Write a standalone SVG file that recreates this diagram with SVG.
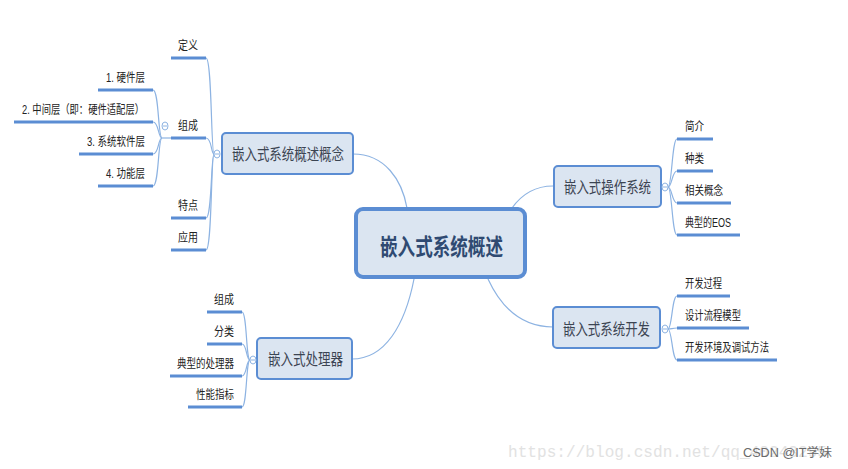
<svg xmlns="http://www.w3.org/2000/svg" width="848" height="469" viewBox="0 0 848 469">
<style>
  .bg{fill:#ffffff}
  .node{fill:#dbe5f1;stroke:#5b8dd3;stroke-width:2}
  .root{fill:#dbe5f1;stroke:#5b8dd3;stroke-width:4}
  .ntext{font-family:"Noto Sans CJK SC","Liberation Sans",sans-serif;font-size:16px;fill:#3b4452}
  .rtext{font-family:"Noto Sans CJK SC","Liberation Sans",sans-serif;font-size:23px;font-weight:bold;fill:#2f4a72}
  .stext{font-family:"Liberation Sans","Noto Sans CJK SC",sans-serif;font-size:12px;fill:#222222}
  .under{stroke:#5b8dd3;stroke-width:3;fill:none}
  .curve{stroke:#8db3e2;stroke-width:1.2;fill:none}
  .fold{fill:#ffffff;stroke:#8db3e2;stroke-width:1}
  .wm{font-family:"Liberation Mono",monospace;font-size:16px;fill:#e2e2e2}
  .wm2{font-family:"Liberation Sans","Noto Sans CJK SC",sans-serif;font-size:12px;fill:#6a6a6a}
</style>
<rect class="bg" x="0" y="0" width="848" height="469"/>

<g id="connectors">
  <!-- root to main topics -->
  <path class="curve" d="M353,154 C385,154 402,180 407,208"/>
  <path class="curve" d="M512,208 C522,194 535,186 553,186"/>
  <path class="curve" d="M488,279 C500,305 520,327 553,327"/>
  <path class="curve" d="M414,279 C405,325 385,359 352,359"/>
  <!-- 概念 children -->
  <path class="curve" d="M214,154 C211,154 212,58 206,58"/>
  <path class="curve" d="M214,154 C211,154 212,138 206,138"/>
  <path class="curve" d="M214,154 C211,154 212,218 206,218"/>
  <path class="curve" d="M214,154 C211,154 212,250 206,250"/>
  <!-- 组成 children -->
  <path class="curve" d="M171,138 L162,138"/>
  <path class="curve" d="M162,138 C158,138 159,90 153,90"/>
  <path class="curve" d="M162,138 C158,138 159,122 153,122"/>
  <path class="curve" d="M162,138 C158,138 159,154 153,154"/>
  <path class="curve" d="M162,138 C158,138 159,186 153,186"/>
  <!-- 操作系统 children -->
  <path class="curve" d="M668,187 C672,187 672,139 677,139"/>
  <path class="curve" d="M668,187 C672,187 672,171 677,171"/>
  <path class="curve" d="M668,187 C672,187 672,203 677,203"/>
  <path class="curve" d="M668,187 C672,187 672,235 677,235"/>
  <!-- 开发 children -->
  <path class="curve" d="M668,329 C672,329 672,296 677,296"/>
  <path class="curve" d="M668,329 C672,329 672,328 677,328"/>
  <path class="curve" d="M668,329 C672,329 672,360 677,360"/>
  <!-- 处理器 children -->
  <path class="curve" d="M250,360 C246,360 247,312 242,312"/>
  <path class="curve" d="M250,360 C246,360 247,344 242,344"/>
  <path class="curve" d="M250,360 C246,360 247,376 242,376"/>
  <path class="curve" d="M250,360 C246,360 247,407 242,407"/>
</g>

<g id="root">
  <rect class="root" x="356" y="209" width="169" height="68" rx="7"/>
  <text class="rtext" x="380" y="255" textLength="123" lengthAdjust="spacingAndGlyphs">嵌入式系统概述</text>
</g>

<g id="topic-concept">
  <rect class="node" x="222" y="133" width="131" height="41" rx="4"/>
  <text class="ntext" x="232" y="160" textLength="112" lengthAdjust="spacingAndGlyphs">嵌入式系统概述概念</text>
  <ellipse class="fold" cx="217" cy="154" rx="3" ry="4"/>
  <line x1="215" y1="154" x2="219" y2="154" stroke="#8db3e2" stroke-width="1"/>
</g>
<g id="topic-os">
  <rect class="node" x="554" y="166" width="107" height="41" rx="4"/>
  <text class="ntext" x="564" y="193" textLength="87" lengthAdjust="spacingAndGlyphs">嵌入式操作系统</text>
  <ellipse class="fold" cx="665" cy="187" rx="3" ry="4"/>
  <line x1="663" y1="187" x2="667" y2="187" stroke="#8db3e2" stroke-width="1"/>
</g>
<g id="topic-dev">
  <rect class="node" x="553" y="307" width="107" height="41" rx="4"/>
  <text class="ntext" x="563" y="335" textLength="87" lengthAdjust="spacingAndGlyphs">嵌入式系统开发</text>
  <ellipse class="fold" cx="665" cy="329" rx="3" ry="4"/>
  <line x1="663" y1="329" x2="667" y2="329" stroke="#8db3e2" stroke-width="1"/>
</g>
<g id="topic-cpu">
  <rect class="node" x="257" y="338" width="95" height="41" rx="4"/>
  <text class="ntext" x="268" y="365" textLength="75" lengthAdjust="spacingAndGlyphs">嵌入式处理器</text>
  <ellipse class="fold" cx="253" cy="360" rx="3" ry="4"/>
  <line x1="251" y1="360" x2="255" y2="360" stroke="#8db3e2" stroke-width="1"/>
</g>

<!-- 概念 subtopics -->
<g id="sub-def"><line class="under" x1="171" y1="58" x2="206" y2="58"/><text class="stext" x="178" y="50" textLength="20" lengthAdjust="spacingAndGlyphs">定义</text></g>
<g id="sub-comp">
  <line class="under" x1="171" y1="138" x2="206" y2="138"/><text class="stext" x="178" y="130" textLength="20" lengthAdjust="spacingAndGlyphs">组成</text>
  <ellipse class="fold" cx="165" cy="126" rx="3" ry="4"/>
  <line x1="163" y1="126" x2="167" y2="126" stroke="#8db3e2" stroke-width="1"/>
</g>
<g id="sub-feat"><line class="under" x1="171" y1="218" x2="206" y2="218"/><text class="stext" x="178" y="210" textLength="20" lengthAdjust="spacingAndGlyphs">特点</text></g>
<g id="sub-app"><line class="under" x1="171" y1="250" x2="206" y2="250"/><text class="stext" x="178" y="242" textLength="20" lengthAdjust="spacingAndGlyphs">应用</text></g>

<!-- 组成 layers -->
<g id="layer1"><line class="under" x1="98" y1="90" x2="153" y2="90"/><text class="stext" x="106" y="82" textLength="39" lengthAdjust="spacingAndGlyphs">1. 硬件层</text></g>
<g id="layer2"><line class="under" x1="14" y1="122" x2="153" y2="122"/><text class="stext" x="22" y="114" textLength="122" lengthAdjust="spacingAndGlyphs">2. 中间层（即：硬件适配层）</text></g>
<g id="layer3"><line class="under" x1="79" y1="154" x2="153" y2="154"/><text class="stext" x="87" y="146" textLength="58" lengthAdjust="spacingAndGlyphs">3. 系统软件层</text></g>
<g id="layer4"><line class="under" x1="98" y1="186" x2="153" y2="186"/><text class="stext" x="106" y="178" textLength="39" lengthAdjust="spacingAndGlyphs">4. 功能层</text></g>

<!-- 操作系统 subtopics -->
<g id="os-intro"><line class="under" x1="677" y1="139" x2="713" y2="139"/><text class="stext" x="685" y="131" textLength="19" lengthAdjust="spacingAndGlyphs">简介</text></g>
<g id="os-kind"><line class="under" x1="677" y1="171" x2="713" y2="171"/><text class="stext" x="685" y="163" textLength="19" lengthAdjust="spacingAndGlyphs">种类</text></g>
<g id="os-concept"><line class="under" x1="677" y1="203" x2="731" y2="203"/><text class="stext" x="685" y="195" textLength="38" lengthAdjust="spacingAndGlyphs">相关概念</text></g>
<g id="os-eos"><line class="under" x1="677" y1="235" x2="740" y2="235"/><text class="stext" x="685" y="227" textLength="46" lengthAdjust="spacingAndGlyphs">典型的EOS</text></g>

<!-- 开发 subtopics -->
<g id="dev-proc"><line class="under" x1="677" y1="296" x2="730" y2="296"/><text class="stext" x="685" y="288" textLength="37" lengthAdjust="spacingAndGlyphs">开发过程</text></g>
<g id="dev-model"><line class="under" x1="677" y1="328" x2="749" y2="328"/><text class="stext" x="685" y="320" textLength="56" lengthAdjust="spacingAndGlyphs">设计流程模型</text></g>
<g id="dev-env"><line class="under" x1="677" y1="360" x2="777" y2="360"/><text class="stext" x="685" y="352" textLength="84" lengthAdjust="spacingAndGlyphs">开发环境及调试方法</text></g>

<!-- 处理器 subtopics -->
<g id="cpu-comp"><line class="under" x1="207" y1="312" x2="242" y2="312"/><text class="stext" x="214" y="304" textLength="20" lengthAdjust="spacingAndGlyphs">组成</text></g>
<g id="cpu-kind"><line class="under" x1="207" y1="344" x2="242" y2="344"/><text class="stext" x="214" y="336" textLength="20" lengthAdjust="spacingAndGlyphs">分类</text></g>
<g id="cpu-typ"><line class="under" x1="170" y1="376" x2="242" y2="376"/><text class="stext" x="177" y="368" textLength="57" lengthAdjust="spacingAndGlyphs">典型的处理器</text></g>
<g id="cpu-perf"><line class="under" x1="188" y1="407" x2="242" y2="407"/><text class="stext" x="196" y="399" textLength="38" lengthAdjust="spacingAndGlyphs">性能指标</text></g>

<!-- watermarks -->
<text class="wm" x="508" y="457" textLength="319" lengthAdjust="spacingAndGlyphs">https://blog.csdn.net/qq_40243295</text>
<text class="wm2" x="743" y="457" textLength="89" lengthAdjust="spacingAndGlyphs">CSDN @IT学妹</text>
</svg>
